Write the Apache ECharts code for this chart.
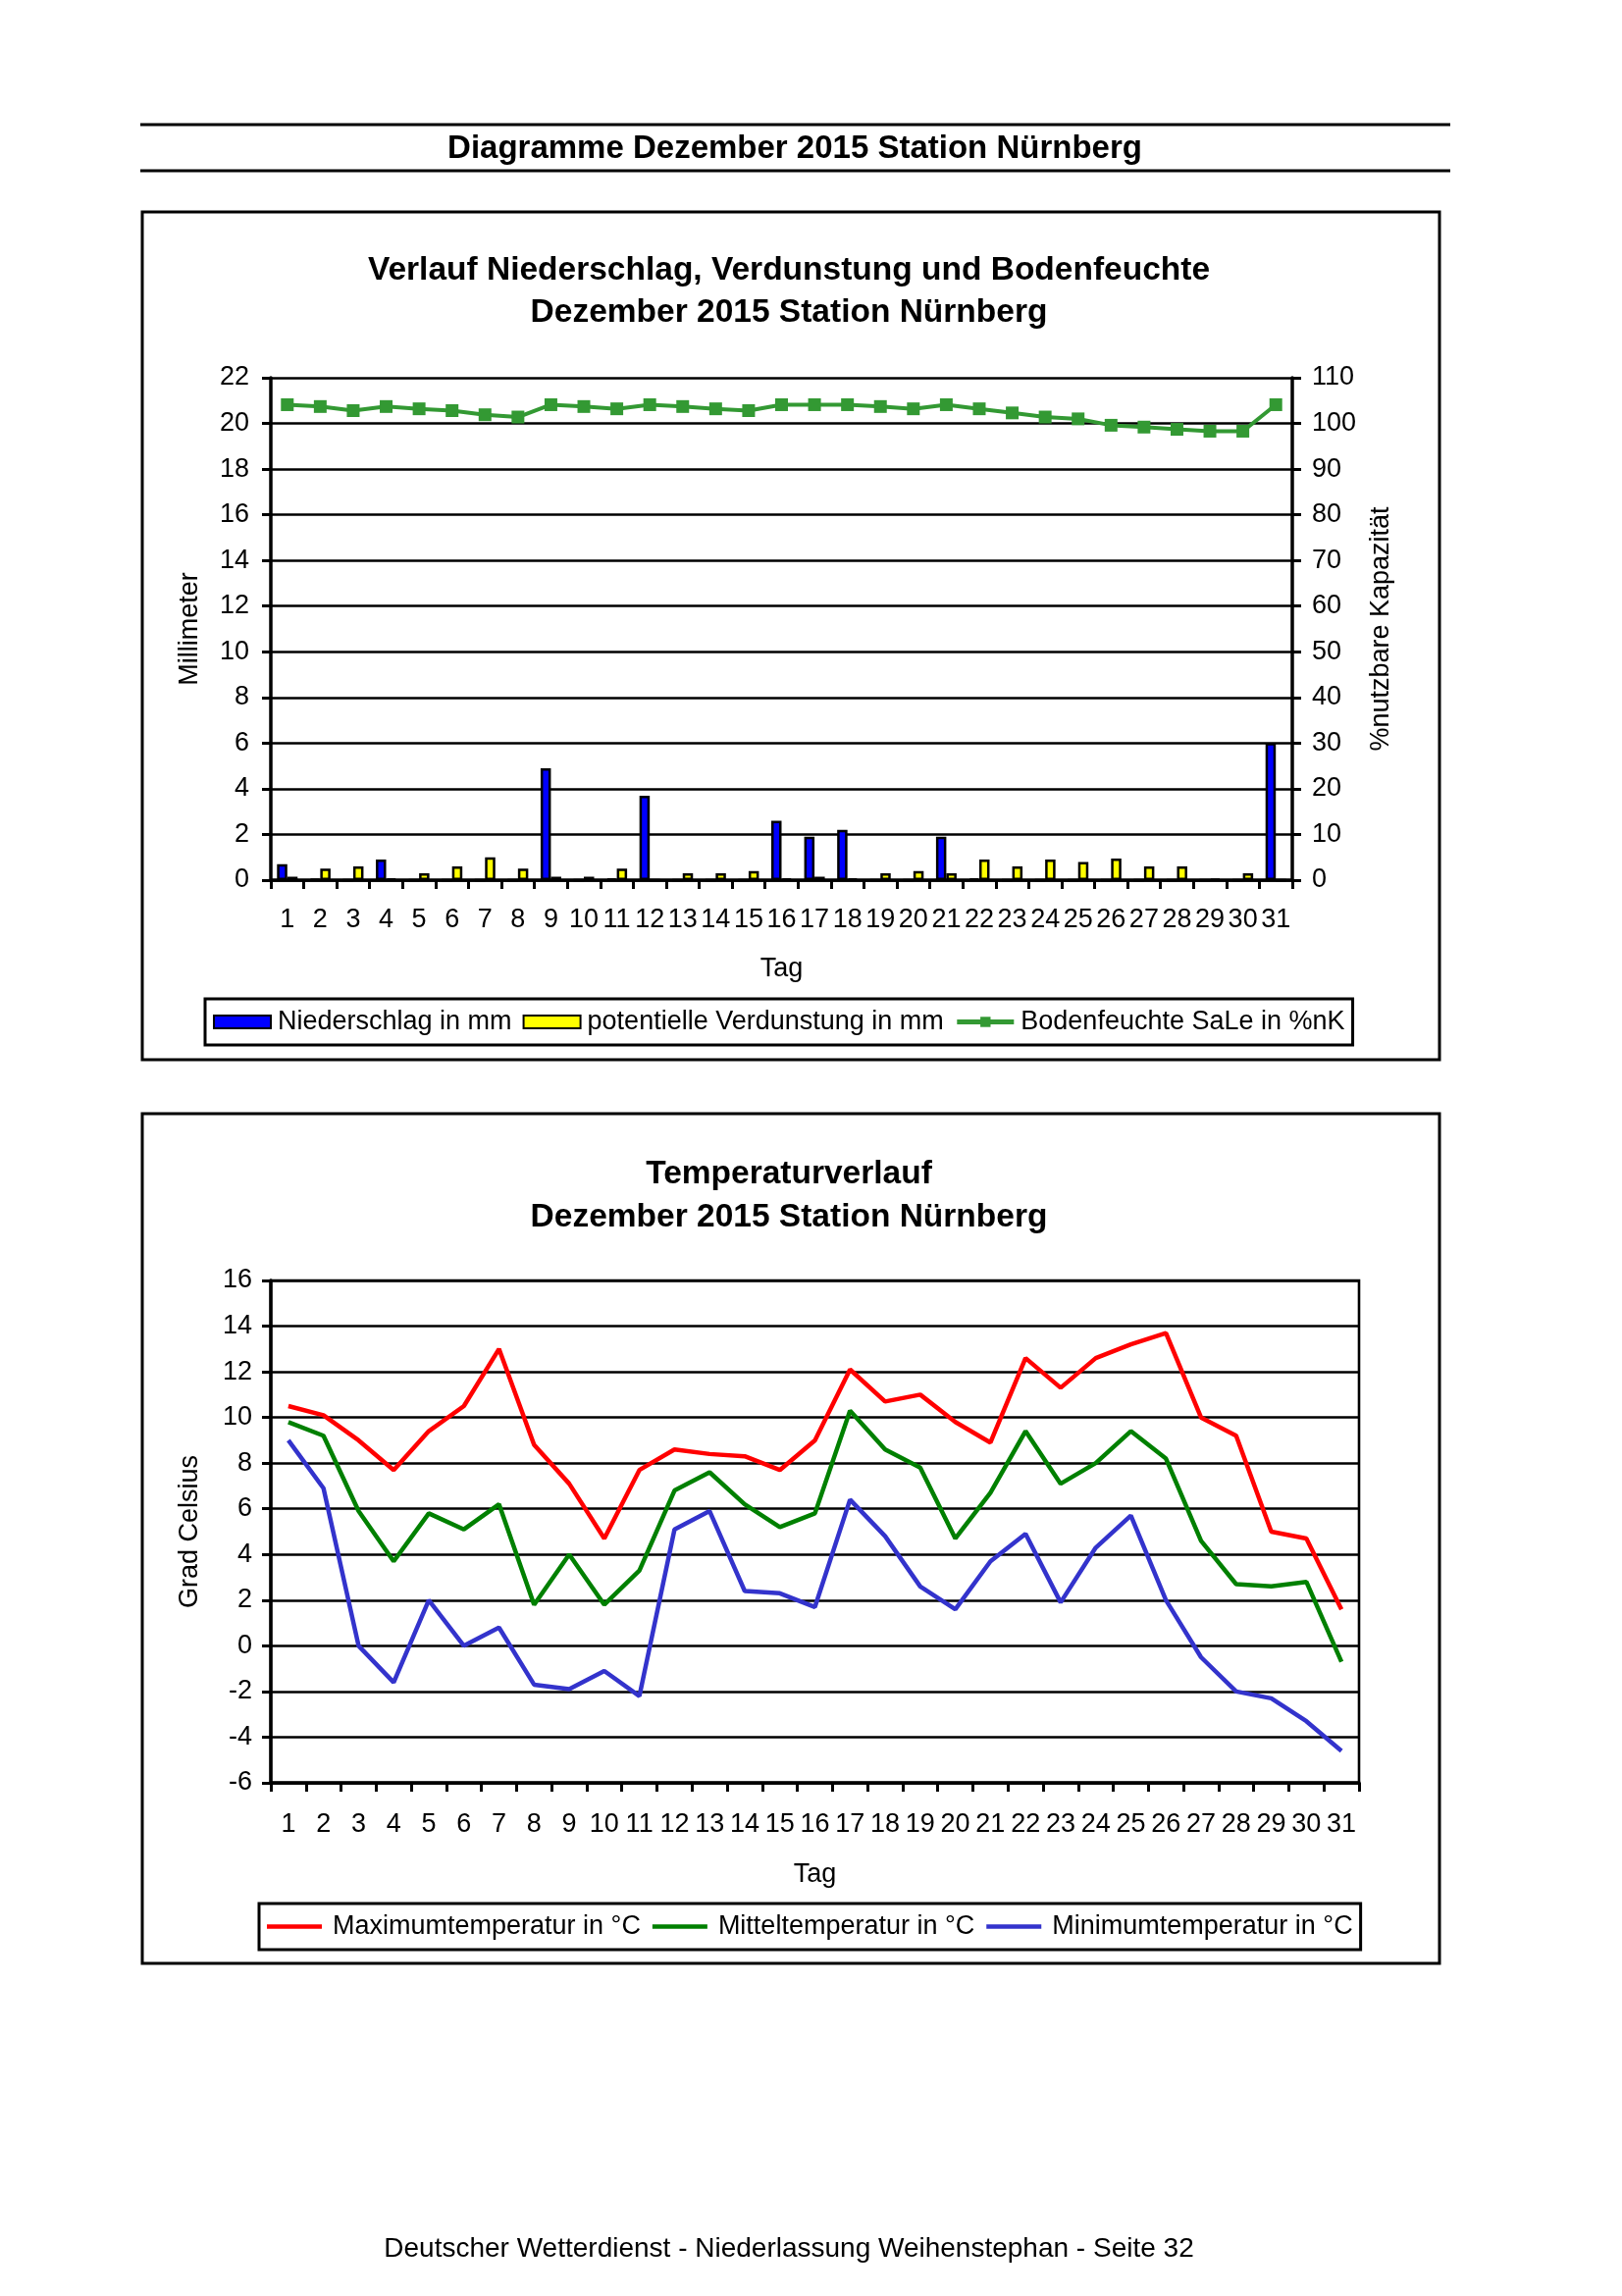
<!DOCTYPE html>
<html>
<head>
<meta charset="utf-8">
<script src="https://cdn.jsdelivr.net/npm/echarts@6/dist/echarts.min.js"></script>
<style>
html,body{margin:0;padding:0;background:#fff;}
#c{width:1653px;height:2340px;}
</style>
</head>
<body>
<div id="c"></div>
<script>
const days = ['1','2','3','4','5','6','7','8','9','10','11','12','13','14','15','16','17','18','19','20','21','22','23','24','25','26','27','28','29','30','31'];
const niederschlag = [0.7,0.05,0,0.9,0,0,0,0,4.9,0,0.07,3.7,0,0,0,2.6,1.9,2.2,0,0,1.9,0.07,0,0,0,0,0,0,0,0,6.0];
const verdunstung = [0.15,0.5,0.6,0.07,0.3,0.6,1.0,0.5,0.15,0.15,0.5,0,0.3,0.3,0.4,0.07,0.15,0.07,0.3,0.4,0.3,0.9,0.6,0.9,0.8,0.95,0.6,0.6,0.05,0.3,0];
const bodenfeuchte = [104.1,103.7,102.8,103.7,103.2,102.8,101.9,101.4,104.1,103.7,103.2,104.1,103.7,103.2,102.8,104.1,104.1,104.1,103.7,103.2,104.1,103.2,102.3,101.4,101.0,99.6,99.2,98.7,98.3,98.3,104.1];
const tmax = [10.5,10.1,9.0,7.7,9.4,10.5,13.0,8.8,7.1,4.7,7.7,8.6,8.4,8.3,7.7,9.0,12.1,10.7,11.0,9.8,8.9,12.6,11.3,12.6,13.2,13.7,10.0,9.2,5.0,4.7,1.6];
const tmean = [9.8,9.2,5.9,3.7,5.8,5.1,6.2,1.8,4.0,1.8,3.3,6.8,7.6,6.2,5.2,5.8,10.3,8.6,7.8,4.7,6.7,9.4,7.1,8.0,9.4,8.2,4.6,2.7,2.6,2.8,-0.7];
const tmin = [9.0,6.9,0.0,-1.6,2.0,0.0,0.8,-1.7,-1.9,-1.1,-2.2,5.1,5.9,2.4,2.3,1.7,6.4,4.8,2.6,1.6,3.7,4.9,1.9,4.3,5.7,2.0,-0.5,-2.0,-2.3,-3.3,-4.6];

const FONT = "'Liberation Sans', Arial, sans-serif";
const FS = 27;

function catAxis(gi, margin, gap){
  return {
    type:'category', gridIndex:gi, data:days, boundaryGap:true,
    axisLine:{show:true,onZero:false,lineStyle:{color:'#000',width:3.5}},
    axisTick:{show:true,alignWithLabel:false,length:9,lineStyle:{color:'#000',width:3}},
    axisLabel:{interval:0,color:'#000',fontSize:FS,fontFamily:FONT,margin:margin},
    name:'Tag', nameLocation:'middle', nameGap:gap,
    nameTextStyle:{color:'#000',fontSize:FS,fontFamily:FONT},
    splitLine:{show:false}
  };
}
function valAxis(gi,min,max,iv,pos,name,gap,split,margin){
  return {
    type:'value', gridIndex:gi, min:min, max:max, interval:iv, position:pos,
    axisLine:{show:true,lineStyle:{color:'#000',width:3.5}},
    axisTick:{show:true,length:9,lineStyle:{color:'#000',width:3}},
    axisLabel:{color:'#000',fontSize:FS,fontFamily:FONT,margin:margin},
    splitLine:{show:split,lineStyle:{color:'#000',width:2.6}},
    name:name, nameLocation:'middle', nameGap:gap, nameRotate:90,
    nameTextStyle:{color:'#000',fontSize:FS,fontFamily:FONT}
  };
}

const chart = echarts.init(document.getElementById('c'), null, {renderer:'canvas'});
chart.setOption({
  backgroundColor:'#fff',
  animation:false,
  textStyle:{fontFamily:FONT},
  grid:[
    {left:276, top:385, width:1041, height:512},
    {left:276, top:1305, width:1109, height:512, show:true, borderColor:'#000', borderWidth:2.6, backgroundColor:'transparent'}
  ],
  xAxis:[catAxis(0, 27, 77), catAxis(1, 29, 80)],
  yAxis:[
    valAxis(0,0,22,2,'left','Millimeter',69,true,22),
    valAxis(0,0,110,10,'right','%nutzbare Kapazität',77,false,20),
    valAxis(1,-6,16,2,'left','Grad Celsius',69,true,19)
  ],
  legend:[
    {
      left:209, top:1018, orient:'horizontal',
      borderColor:'#000', borderWidth:3, padding:[10,8,10,8],
      itemWidth:58, itemHeight:13, itemGap:11,
      textStyle:{color:'#000',fontSize:FS,fontFamily:FONT, padding:[0,0,0,2]},
      data:[
        {name:'Niederschlag in mm', icon:'rect'},
        {name:'potentielle Verdunstung in mm', icon:'rect'},
        {name:'Bodenfeuchte SaLe in %nK', lineStyle:{width:5}}
      ]
    },
    {
      left:264, top:1940, orient:'horizontal',
      borderColor:'#000', borderWidth:3, padding:[10,8,10,8],
      itemWidth:56, itemHeight:4.5, itemGap:12,
      textStyle:{color:'#000',fontSize:FS,fontFamily:FONT, padding:[0,0,0,6]},
      data:[
        {name:'Maximumtemperatur in °C', icon:'rect'},
        {name:'Mitteltemperatur in °C', icon:'rect'},
        {name:'Minimumtemperatur in °C', icon:'rect'}
      ]
    }
  ],
  series:[
    {name:'Niederschlag in mm', type:'bar', xAxisIndex:0, yAxisIndex:0, data:niederschlag,
     barWidth:10.5, barGap:'0%', itemStyle:{color:'#0000FF', borderColor:'#000', borderWidth:2.5}},
    {name:'potentielle Verdunstung in mm', type:'bar', xAxisIndex:0, yAxisIndex:0, data:verdunstung,
     barWidth:10.5, barGap:'0%', itemStyle:{color:'#FFFF00', borderColor:'#000', borderWidth:2.5}},
    {name:'Bodenfeuchte SaLe in %nK', type:'line', xAxisIndex:0, yAxisIndex:1, data:bodenfeuchte,
     symbol:'rect', symbolSize:13, lineStyle:{color:'#339933', width:4},
     itemStyle:{color:'#339933'}, z:5},
    {name:'Maximumtemperatur in °C', type:'line', xAxisIndex:1, yAxisIndex:2, data:tmax,
     symbol:'none', lineStyle:{color:'#FF0000', width:4.5}, itemStyle:{color:'#FF0000'}},
    {name:'Mitteltemperatur in °C', type:'line', xAxisIndex:1, yAxisIndex:2, data:tmean,
     symbol:'none', lineStyle:{color:'#008000', width:4.5}, itemStyle:{color:'#008000'}},
    {name:'Minimumtemperatur in °C', type:'line', xAxisIndex:1, yAxisIndex:2, data:tmin,
     symbol:'none', lineStyle:{color:'#3333CC', width:4.5}, itemStyle:{color:'#3333CC'}}
  ],
  graphic:[
    {type:'line', shape:{x1:143,y1:127,x2:1478,y2:127}, style:{stroke:'#000',lineWidth:3}},
    {type:'line', shape:{x1:143,y1:174,x2:1478,y2:174}, style:{stroke:'#000',lineWidth:3}},
    {type:'text', x:810, y:152, style:{text:'Diagramme Dezember 2015 Station Nürnberg', font:"bold 33px "+FONT, fill:'#000', align:'center', verticalAlign:'middle'}},
    {type:'rect', shape:{x:145,y:216,width:1322,height:864}, style:{fill:'none',stroke:'#000',lineWidth:3}, z:-1},
    {type:'text', x:804, y:276, style:{text:'Verlauf Niederschlag, Verdunstung und Bodenfeuchte', font:"bold 33.5px "+FONT, fill:'#000', align:'center', verticalAlign:'middle'}},
    {type:'text', x:804, y:319, style:{text:'Dezember 2015 Station Nürnberg', font:"bold 33.5px "+FONT, fill:'#000', align:'center', verticalAlign:'middle'}},
    {type:'rect', shape:{x:145,y:1135,width:1322,height:866}, style:{fill:'none',stroke:'#000',lineWidth:3}, z:-1},
    {type:'text', x:804, y:1197, style:{text:'Temperaturverlauf', font:"bold 33.5px "+FONT, fill:'#000', align:'center', verticalAlign:'middle'}},
    {type:'text', x:804, y:1241, style:{text:'Dezember 2015 Station Nürnberg', font:"bold 33.5px "+FONT, fill:'#000', align:'center', verticalAlign:'middle'}},
    {type:'text', x:804, y:2292, style:{text:'Deutscher Wetterdienst - Niederlassung Weihenstephan - Seite 32', font:"28px "+FONT, fill:'#000', align:'center', verticalAlign:'middle'}}
  ]
});
</script>
</body>
</html>
